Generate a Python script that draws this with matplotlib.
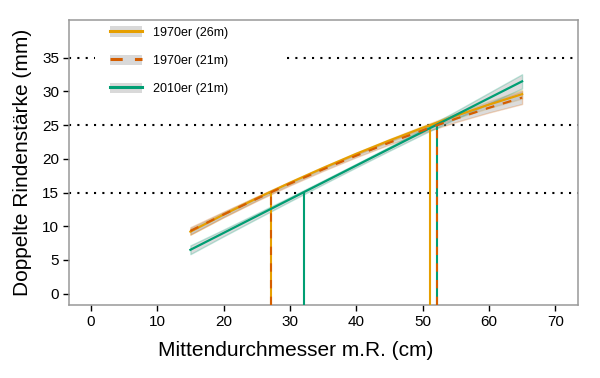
import matplotlib
matplotlib.use("Agg")
import matplotlib.pyplot as plt
from matplotlib.lines import Line2D
from matplotlib.patches import Patch
from matplotlib.colors import to_rgba
import numpy as np

plt.rcParams['font.family'] = ['Liberation Sans', 'DejaVu Sans']

# data
dm = [15, 20, 25, 30, 35, 40, 45, 50, 55, 60, 65]
r70_26 = [9.20, 11.72, 14.13, 16.44, 18.64, 20.74, 22.72, 24.60, 26.38, 28.04, 29.60]
r70_21 = [9.30, 11.74, 14.07, 16.31, 18.44, 20.47, 22.40, 24.22, 25.95, 27.57, 29.09]
r10_21 = [6.5, 9.0, 11.5, 14.0, 16.5, 19.0, 21.5, 24.0, 26.5, 29.0, 31.5]
ci70_26 = [0.45, 0.35, 0.28, 0.22, 0.20, 0.20, 0.22, 0.28, 0.38, 0.50, 0.65]
ci70_21 = [0.55, 0.42, 0.32, 0.26, 0.23, 0.23, 0.27, 0.36, 0.50, 0.70, 0.95]
ci10_21 = [0.65, 0.50, 0.40, 0.32, 0.28, 0.27, 0.30, 0.38, 0.55, 0.80, 1.05]

labels = ['1970er (26m)', '1970er (21m)', '2010er (21m)']
colors = ['#E69F00', '#D55E00', '#009E73']
# diameter where each curve reaches 15 mm and 25 mm
cross15 = [27.1, 27.1, 32.1]
cross25 = [51.1, 52.2, 52.2]

fig = plt.figure(figsize=(6, 3.78), dpi=100)
ax = fig.add_axes([0.115, 0.193, 0.848, 0.754])

x = np.array(dm)
series = [(r70_26, ci70_26), (r70_21, ci70_21), (r10_21, ci10_21)]
for (y, ci), c in zip(series, colors):
    y = np.array(y); ci = np.array(ci)
    ax.fill_between(x, y - ci, y + ci, facecolor=to_rgba('#a8a8a8', 0.4),
                    edgecolor=to_rgba(c, 0.25), linewidth=1.0, zorder=2)

# threshold lines (35 line is hidden behind the legend)
dot = (0, (1, 3))
ax.axhline(15, color='black', lw=1.5, ls=dot, zorder=1)
ax.axhline(25, color='black', lw=1.5, ls=dot, zorder=1)
ax.axhline(35, xmax=0.051, color='black', lw=1.5, ls=dot, zorder=1)
ax.axhline(35, xmin=0.428, color='black', lw=1.5, ls=dot, zorder=1)

ymin = -1.7
# vertical drop lines: orange, green, then dashed vermillion on top
for i in [0, 2, 1]:
    ls = (0, (4, 4)) if i == 1 else '-'
    for xv, th in [(cross15[i], 15), (cross25[i], 25)]:
        ax.plot([xv, xv], [ymin, th], color=colors[i], lw=1.5, ls=ls,
                solid_capstyle='butt', zorder=3)

ax.plot(x, r70_26, color=colors[0], lw=1.6, zorder=4)
ax.plot(x, r10_21, color=colors[2], lw=1.6, zorder=4)
ax.plot(x, r70_21, color=colors[1], lw=1.6, ls=(0, (4, 4)), zorder=5)

ax.set_xlim(-3.3, 73.4)
ax.set_ylim(ymin, 40.6)
ax.set_xticks(range(0, 71, 10))
ax.set_yticks(range(0, 36, 5))
for s in ax.spines.values():
    s.set_color('#999999')
    s.set_linewidth(1.1)
ax.tick_params(direction='out', length=4, width=1, color='black',
               labelsize=11, labelcolor='black', pad=3)
ax.set_xlabel('Mittendurchmesser m.R. (cm)', fontsize=15)
ax.set_ylabel('Doppelte Rindenstärke (mm)', fontsize=15)
ax.xaxis.set_label_coords(0.445, -0.125)
ax.yaxis.set_label_coords(-0.072, 0.5)

handles = []
for i, c in enumerate(colors):
    ls = (0, (4, 4)) if i == 1 else '-'
    handles.append((Patch(facecolor='#d9d9d9', edgecolor='none'),
                    Line2D([], [], color=c, lw=2.2, ls=ls)))
ax.legend(handles, labels, loc='upper left', bbox_to_anchor=(0.183, 0.93),
          bbox_transform=fig.transFigure, frameon=False, fontsize=9,
          handlelength=2.55, handleheight=0.9, labelspacing=1.25,
          handletextpad=0.9, borderpad=0, borderaxespad=0)

fig.savefig('out.png', dpi=100)
